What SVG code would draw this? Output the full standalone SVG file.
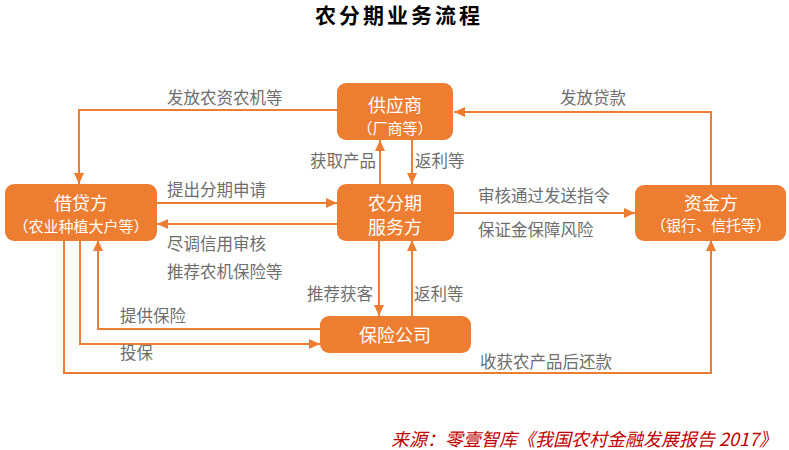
<svg xmlns="http://www.w3.org/2000/svg" width="789" height="450" viewBox="0 0 789 450">
<style>
.box{fill:#ED7D31;}
.bt{fill:#fff;font-family:"Noto Sans CJK SC",sans-serif;font-size:18px;text-anchor:middle;dominant-baseline:central;}
.bs{fill:#fff;font-family:"Noto Sans CJK SC",sans-serif;font-size:15px;text-anchor:middle;dominant-baseline:central;}
.ln{fill:none;stroke:#ED7D31;stroke-width:2;}
.lb{fill:#6e6e6e;font-family:"Noto Sans CJK SC",sans-serif;font-size:16.5px;dominant-baseline:central;}
</style>
<defs>
<marker id="ar" markerUnits="userSpaceOnUse" markerWidth="12" markerHeight="12" viewBox="0 0 12 12" refX="11" refY="6" orient="auto">
<path d="M0,1 L11,6 L0,11 Z" fill="#ED7D31"/>
</marker>
</defs>
<rect width="789" height="450" fill="#fff"/>
<text x="399" y="14" font-family="Noto Sans CJK SC,sans-serif" font-size="21" font-weight="bold" letter-spacing="3" text-anchor="middle" dominant-baseline="central" fill="#000">农分期业务流程</text>

<g id="connectors">
<path class="ln" d="M337,110 H79 V184" marker-end="url(#ar)"/>
<path class="ln" d="M380,184 V140" marker-end="url(#ar)"/>
<path class="ln" d="M412,140 V184" marker-end="url(#ar)"/>
<path class="ln" d="M157,203 H337" marker-end="url(#ar)"/>
<path class="ln" d="M337,224 H157" marker-end="url(#ar)"/>
<path class="ln" d="M711,185 V112 H454" marker-end="url(#ar)"/>
<path class="ln" d="M454,213 H635" marker-end="url(#ar)"/>
<path class="ln" d="M379,240 V316" marker-end="url(#ar)"/>
<path class="ln" d="M412,316 V240" marker-end="url(#ar)"/>
<path class="ln" d="M320,329 H98 V240" marker-end="url(#ar)"/>
<path class="ln" d="M80,240 V344 H320" marker-end="url(#ar)"/>
<path class="ln" d="M64,240 V373 H711 V240" marker-end="url(#ar)"/>
<text class="lb" x="167" y="97">发放农资农机等</text>
<text class="lb" x="310" y="160">获取产品</text>
<text class="lb" x="415" y="160">返利等</text>
<text class="lb" x="560" y="97">发放贷款</text>
<text class="lb" x="167" y="189">提出分期申请</text>
<text class="lb" x="167" y="243">尽调信用审核</text>
<text class="lb" x="167" y="271">推荐农机保险等</text>
<text class="lb" x="478" y="195">审核通过发送指令</text>
<text class="lb" x="478" y="229">保证金保障风险</text>
<text class="lb" x="307" y="293">推荐获客</text>
<text class="lb" x="414" y="293">返利等</text>
<text class="lb" x="120" y="315">提供保险</text>
<text class="lb" x="120" y="352">投保</text>
<text class="lb" x="480" y="361">收获农产品后还款</text>
</g>

<g id="supplier">
<rect class="box" x="337" y="83" width="116" height="57" rx="9"/>
<text class="bt" x="395" y="104">供应商</text>
<text class="bs" x="395" y="127">（厂商等）</text>
</g>
<g id="borrower">
<rect class="box" x="5" y="184" width="152" height="57" rx="9"/>
<text class="bt" x="81" y="202">借贷方</text>
<text class="bs" x="81" y="225">（农业种植大户等）</text>
</g>
<g id="platform">
<rect class="box" x="337" y="184" width="117" height="57" rx="9"/>
<text class="bt" x="395" y="202">农分期</text>
<text class="bt" x="395" y="226">服务方</text>
</g>
<g id="funder">
<rect class="box" x="635" y="185" width="151" height="56" rx="9"/>
<text class="bt" x="711" y="202">资金方</text>
<text class="bs" x="711" y="224">（银行、信托等）</text>
</g>
<g id="insurer">
<rect class="box" x="320" y="316" width="151" height="37" rx="9"/>
<text class="bt" x="395" y="334">保险公司</text>
</g>

<text x="777" y="438" font-family="Noto Sans CJK SC,sans-serif" font-size="18" font-style="italic" fill="#C00000" text-anchor="end" dominant-baseline="central">来源：零壹智库《我国农村金融发展报告 2017》</text>
</svg>
